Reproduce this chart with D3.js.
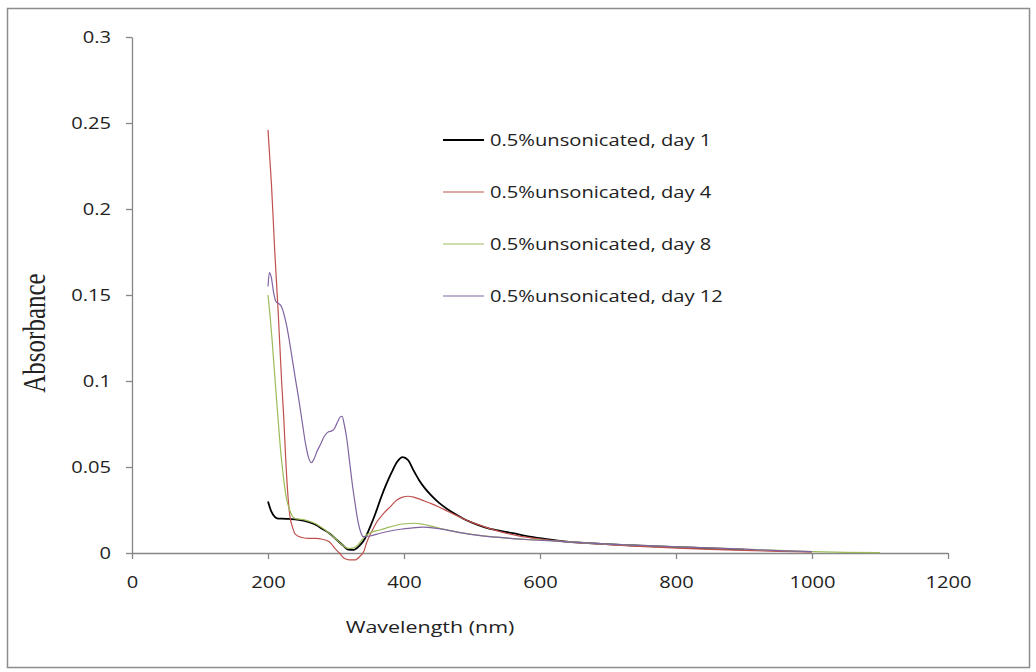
<!DOCTYPE html>
<html>
<head>
<meta charset="utf-8">
<script src="https://cdn.jsdelivr.net/npm/d3@7"></script>
<style>
  body { margin: 0; background: #fff; }
</style>
</head>
<body>
<div id="chart"></div>
<script>
// tick labels
var xTicks = [0, 200, 400, 600, 800, 1000, 1200];
var yTicks = [0, 0.05, 0.1, 0.15, 0.2, 0.25, 0.3];
var yTickLabels = ["0", "0.05", "0.1", "0.15", "0.2", "0.25", "0.3"];

var seriesNames = ["0.5%unsonicated, day 1", "0.5%unsonicated, day 4", "0.5%unsonicated, day 8", "0.5%unsonicated, day 12"];

// day 1
var day1Wl = [200, 205, 210, 215, 220, 230, 240, 250, 260, 270, 280, 290, 300, 310, 318, 326, 334, 342, 350, 358, 366, 374, 382, 390, 398, 406, 414, 422, 430, 440, 452, 464, 476, 488, 500, 520, 540, 560, 585, 610, 635, 660, 690, 720, 750, 780, 810, 840, 870, 900];
var day1Abs = [0.030, 0.024, 0.021, 0.020, 0.020, 0.0198, 0.0196, 0.019, 0.018, 0.0165, 0.014, 0.0115, 0.008, 0.0045, 0.002, 0.0018, 0.004, 0.008, 0.015, 0.023, 0.032, 0.040, 0.047, 0.053, 0.0557, 0.054, 0.048, 0.0425, 0.038, 0.0335, 0.029, 0.0255, 0.0225, 0.0198, 0.0177, 0.0148, 0.013, 0.0115, 0.0095, 0.008, 0.0068, 0.006, 0.0053, 0.0047, 0.0042, 0.0037, 0.0033, 0.0028, 0.0024, 0.002];

// day 4
var day4Wl = [200, 205, 210, 215, 220, 223, 226, 229, 232, 236, 240, 250, 260, 270, 280, 290, 300, 305, 312, 320, 328, 335, 341, 345, 352, 360, 370, 380, 390, 398, 406, 414, 422, 430, 440, 452, 464, 476, 488, 500, 515, 530, 550, 570, 590, 620, 650, 690, 730, 770, 810, 850, 900, 950, 1000];
var day4Abs = [0.246, 0.215, 0.175, 0.140, 0.100, 0.080, 0.055, 0.035, 0.022, 0.015, 0.011, 0.009, 0.0085, 0.0085, 0.008, 0.0065, 0.002, 0.000, -0.003, -0.004, -0.004, -0.002, 0.001, 0.006, 0.012, 0.018, 0.023, 0.027, 0.031, 0.0325, 0.033, 0.0325, 0.0315, 0.0302, 0.0287, 0.0266, 0.0243, 0.022, 0.0198, 0.0178, 0.0157, 0.0137, 0.0115, 0.0098, 0.0086, 0.0072, 0.0062, 0.0051, 0.0042, 0.0034, 0.0027, 0.0021, 0.0015, 0.001, 0.0005];

// day 8
var day8Wl = [200, 203, 206, 209, 212, 215, 218, 221, 224, 227, 231, 235, 240, 250, 260, 270, 280, 290, 300, 310, 318, 326, 334, 342, 352, 365, 378, 390, 402, 416, 428, 440, 456, 472, 488, 510, 536, 560, 585, 620, 660, 700, 750, 800, 850, 900, 950, 1000, 1050, 1100];
var day8Abs = [0.150, 0.138, 0.124, 0.108, 0.092, 0.077, 0.062, 0.050, 0.040, 0.032, 0.026, 0.022, 0.020, 0.0195, 0.0185, 0.017, 0.0145, 0.0115, 0.008, 0.0045, 0.0027, 0.003, 0.0055, 0.0095, 0.012, 0.0134, 0.015, 0.0163, 0.017, 0.0173, 0.0167, 0.0156, 0.014, 0.0127, 0.0116, 0.0103, 0.0092, 0.0084, 0.0078, 0.007, 0.006, 0.0052, 0.0044, 0.0036, 0.003, 0.0022, 0.0015, 0.0008, 0.0004, 0.0002];

// day 12
var day12Wl = [200, 202, 205, 208, 212, 216, 220, 224, 228, 232, 236, 240, 245, 250, 255, 260, 264, 268, 272, 277, 283, 289, 294, 298, 302, 306, 309, 312, 316, 320, 324, 328, 332, 336, 340, 350, 365, 380, 395, 410, 428, 445, 465, 487, 510, 536, 560, 585, 620, 660, 700, 750, 800, 850, 900, 950, 1000];
var day12Abs = [0.155, 0.163, 0.160, 0.152, 0.146, 0.145, 0.143, 0.138, 0.131, 0.122, 0.112, 0.102, 0.090, 0.077, 0.064, 0.055, 0.0525, 0.055, 0.059, 0.063, 0.068, 0.0705, 0.071, 0.0725, 0.076, 0.079, 0.0795, 0.075, 0.066, 0.053, 0.040, 0.029, 0.019, 0.0125, 0.0095, 0.0099, 0.0115, 0.0128, 0.0138, 0.0145, 0.015, 0.0145, 0.0132, 0.0116, 0.0103, 0.0092, 0.0084, 0.0077, 0.007, 0.006, 0.0052, 0.0044, 0.0036, 0.003, 0.0022, 0.0014, 0.0008];

var colors = ["#000000", "#c0504d", "#9bbb59", "#8064a2"];
var widths = [1.8, 1.2, 1.2, 1.2];

var w = 1036,
  h = 672,
  sx = 1.3, // text in the picture is stretched sideways
  x = d3.scaleLinear().domain([0, 1200]).range([132, 948]),
  y = d3.scaleLinear().domain([0, 0.3]).range([553, 37]);

var series = [
  { wl: day1Wl, abs: day1Abs },
  { wl: day4Wl, abs: day4Abs },
  { wl: day8Wl, abs: day8Abs },
  { wl: day12Wl, abs: day12Abs }
];

var svg = d3.select("#chart").append("svg")
  .attr("width", w)
  .attr("height", h)
  .style("font-family", "'Open Sans', sans-serif");

// outer frame
svg.append("rect")
  .attr("x", 7.5).attr("y", 8.5)
  .attr("width", 1022).attr("height", 659)
  .attr("fill", "#fff")
  .attr("stroke", "#8c8c8c")
  .attr("stroke-width", 1.5);

var line = d3.line()
  .x(function(d) { return x(d[0]); })
  .y(function(d) { return y(d[1]); })
  .curve(d3.curveMonotoneX);

// axes
var xAxis = d3.axisBottom(x).tickValues(xTicks).tickSize(6).tickSizeOuter(0)
  .tickFormat(d3.format("d"));
var yAxis = d3.axisLeft(y).tickValues(yTicks).tickSize(6).tickSizeOuter(0)
  .tickFormat(function(d, i) { return yTickLabels[i]; });

var gx = svg.append("g").attr("transform", "translate(0," + y(0) + ")").call(xAxis);
var gy = svg.append("g").attr("transform", "translate(" + x(0) + ",0)").call(yAxis);

[gx, gy].forEach(function(g) {
  g.select(".domain").attr("stroke", "#868686").attr("stroke-width", 1.3);
  g.selectAll(".tick line").attr("stroke", "#868686").attr("stroke-width", 1.3);
  g.selectAll("text").attr("fill", "#222").attr("font-size", 15.5)
    .attr("font-family", "'Open Sans', sans-serif");
});
gx.selectAll("text").attr("y", 35).attr("dy", null).attr("transform", "scale(" + sx + ",1)");
gy.selectAll("text").attr("x", -21 / sx).attr("dy", null).attr("y", 5.5)
  .attr("transform", "scale(" + sx + ",1)");

// data lines
series.forEach(function(s, i) {
  var pts = s.wl.map(function(v, j) { return [v, s.abs[j]]; });
  svg.append("path")
    .attr("d", line(pts))
    .attr("fill", "none")
    .attr("stroke", colors[i])
    .attr("stroke-width", widths[i])
    .attr("stroke-linejoin", "round");
});

// legend
var legend = svg.append("g");
var legendY = [140, 192, 244, 296];
seriesNames.forEach(function(name, i) {
  legend.append("line")
    .attr("x1", 443).attr("x2", 484)
    .attr("y1", legendY[i]).attr("y2", legendY[i])
    .attr("stroke", colors[i])
    .attr("stroke-width", widths[i]);
  legend.append("text")
    .attr("transform", "translate(490," + (legendY[i] + 5.5) + ") scale(" + sx + ",1)")
    .attr("font-size", 15.5)
    .attr("fill", "#222")
    .text(name);
});

// axis titles
svg.append("text")
  .attr("transform", "translate(430,633) scale(" + sx + ",1)")
  .attr("text-anchor", "middle")
  .attr("font-size", 16.5)
  .attr("fill", "#222")
  .text("Wavelength (nm)");

svg.append("text")
  .attr("transform", "translate(45,333) scale(" + sx + ",1) rotate(-90)")
  .attr("text-anchor", "middle")
  .attr("font-family", "'Liberation Serif', 'DejaVu Serif', serif")
  .attr("font-size", 25)
  .attr("fill", "#222")
  .text("Absorbance");
</script>
</body>
</html>
